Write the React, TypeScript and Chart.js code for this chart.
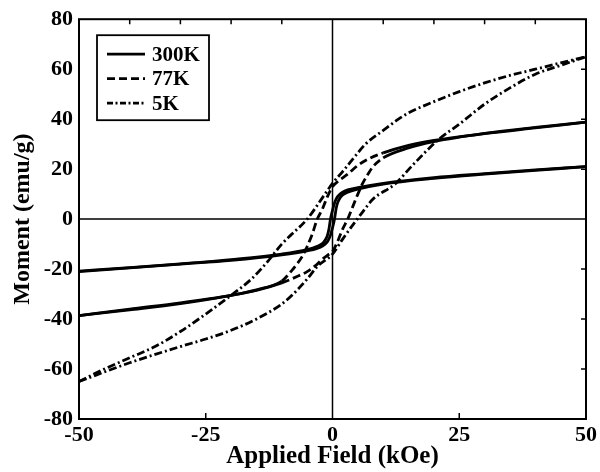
import React, { useEffect, useRef } from "react";
import { Chart, registerables } from "chart.js";

Chart.register(...registerables);

// ---------- data ----------
const xTickLabels = [-50, -25, 0, 25, 50];
const yTickLabels = [-80, -60, -40, -20, 0, 20, 40, 60, 80];
const seriesNames = ["300K", "77K", "5K"];

// 300K loop
const asc300: [number, number][] = [
  [-50, -21], [-40, -19.5], [-30, -18], [-20, -16.5], [-10, -14.3], [-5, -12.7], [-3, -11.7],
  [-2, -10.8], [-1, -9], [-0.5, -7], [0, -3.5], [0.4, 0], [0.7, 4], [1, 6.5], [1.5, 8.5],
  [2, 9.7], [3, 10.8], [5, 12], [10, 14], [20, 16.3], [30, 18], [40, 19.5], [50, 21],
];
const desc300: [number, number][] = [
  [-50, -20.8], [-40, -19.4], [-30, -17.9], [-20, -16.2], [-10, -14], [-5, -12.2], [-3, -10.9],
  [-2, -9.8], [-1.5, -8.6], [-1, -6.5], [-0.7, -4], [-0.4, 0], [0, 3.5], [0.5, 7], [1, 9],
  [2, 10.8], [3, 11.7], [5, 12.6], [10, 14.3], [20, 16.6], [30, 18.2], [40, 19.7], [50, 21],
];

// 77K loop
const asc77: [number, number][] = [
  [-50, -38.6], [-40, -36], [-30, -33.5], [-20, -30.5], [-15, -28.5], [-10, -25.5], [-7, -23],
  [-5, -21], [-3, -18], [-2, -16], [-1, -14.5], [0, -13], [1, -9], [2, -4], [3, 0], [4, 5],
  [5, 10], [6, 14.5], [7, 18], [8, 21], [10, 24.5], [15, 28.5], [20, 31], [30, 34.3],
  [40, 36.7], [50, 38.8],
];
const desc77: [number, number][] = [
  [-50, -38.6], [-40, -36.3], [-30, -33.8], [-20, -30.5], [-15, -28.3], [-10, -24.8], [-8, -20.5],
  [-7, -18], [-6, -15], [-5, -11], [-4, -6], [-3, 0], [-2, 4], [-1.5, 6.5], [-1, 9], [0, 13],
  [1, 15], [2, 16.5], [3, 18], [5, 21.5], [7, 24], [10, 26.5], [15, 29.5], [20, 31.5],
  [30, 34.2], [40, 36.5], [50, 38.8],
];

// 5K loop
const asc5: [number, number][] = [
  [-50, -65], [-40, -57.5], [-30, -51], [-25, -48], [-20, -44.5], [-15, -40], [-10, -34],
  [-8, -30.5], [-5, -24], [-3, -19], [0, -14], [2, -8], [4.5, -1], [6, 3], [8, 8], [12.3, 14],
  [16, 22], [21, 32], [25, 38], [30, 46], [35, 52.5], [40, 58], [45, 61.5], [50, 65],
];
const desc5: [number, number][] = [
  [-50, -65], [-45, -60], [-40, -55.5], [-35, -51], [-30, -45], [-25, -38], [-20, -30.5],
  [-16, -24], [-13, -17.5], [-10, -10], [-8, -6], [-5, 0], [-2, 8.5], [0, 14.3], [2, 19],
  [4, 24], [6.5, 30], [10, 35.5], [13, 40], [15, 42.5], [20, 47], [25, 51], [30, 54.5],
  [35, 57.5], [40, 60], [45, 62.5], [50, 65],
];

const FONT = "'Liberation Serif', 'Times New Roman', serif";
const DASH77 = [8, 4];
const DASH5 = [8, 3, 2, 3];

const toPts = (arr: [number, number][]) => arr.map(([x, y]) => ({ x, y }));

export default function App() {
  const ref = useRef<HTMLCanvasElement | null>(null);

  useEffect(() => {
    if (!ref.current) return;
    const common = {
      showLine: true,
      pointRadius: 0,
      borderColor: "#000",
      borderWidth: 2.8,
      cubicInterpolationMode: "monotone" as const,
      fill: false,
    };
    const dash77Seg = {
      borderDash: (c: any) =>
        Math.abs(c.p0.parsed.x) < 10 || Math.abs(c.p1.parsed.x) < 10 ? DASH77 : [],
    };

    const frame = {
      id: "frame",
      beforeDatasetsDraw(chart: any) {
        const { ctx, chartArea: a, scales } = chart;
        const xs = scales.x, ys = scales.y;
        ctx.save();
        ctx.strokeStyle = "#000";
        ctx.lineWidth = 1.5;
        const x0 = xs.getPixelForValue(0);
        const y0 = ys.getPixelForValue(0);
        ctx.beginPath();
        ctx.moveTo(x0, a.top);
        ctx.lineTo(x0, a.bottom);
        ctx.moveTo(a.left, y0);
        ctx.lineTo(a.right, y0);
        ctx.stroke();
        // inner ticks
        ctx.lineWidth = 1.5;
        ctx.beginPath();
        for (const v of [-40, -30, -20, -10, 10, 20, 30, 40]) {
          const px = xs.getPixelForValue(v);
          ctx.moveTo(px, a.top);
          ctx.lineTo(px, a.top + 5);
        }
        for (const v of [-25, 25]) {
          const px = xs.getPixelForValue(v);
          ctx.moveTo(px, a.bottom);
          ctx.lineTo(px, a.bottom - 6);
        }
        for (const v of [-60, -40, -20, 20, 40, 60]) {
          const py = ys.getPixelForValue(v);
          ctx.moveTo(a.right, py);
          ctx.lineTo(a.right - 5, py);
        }
        ctx.stroke();
        ctx.lineWidth = 2;
        ctx.strokeRect(a.left, a.top, a.right - a.left, a.bottom - a.top);
        ctx.restore();
      },
      afterDatasetsDraw(chart: any) {
        const { ctx, chartArea: a } = chart;
        const bx = a.left + 18, by = a.top + 16, bw = 112, bh = 85;
        ctx.save();
        ctx.fillStyle = "#fff";
        ctx.fillRect(bx, by, bw, bh);
        ctx.strokeStyle = "#000";
        ctx.lineWidth = 1.8;
        ctx.strokeRect(bx, by, bw, bh);
        const dashes = [[], DASH77, [6, 2.5, 2, 2.5]];
        seriesNames.forEach((name, i) => {
          const cy = by + 19 + i * 24.5;
          ctx.setLineDash(dashes[i]);
          ctx.lineWidth = 2.8;
          ctx.beginPath();
          ctx.moveTo(bx + 10, cy);
          ctx.lineTo(bx + 48, cy);
          ctx.stroke();
          ctx.setLineDash([]);
          ctx.fillStyle = "#000";
          ctx.font = `bold 21px ${FONT}`;
          ctx.textBaseline = "middle";
          ctx.textAlign = "left";
          ctx.fillText(name, bx + 55, cy + 1);
        });
        ctx.restore();
      },
    };

    const chart = new Chart(ref.current, {
      type: "scatter",
      data: {
        datasets: [
          { label: seriesNames[0], data: toPts(desc300), ...common },
          { label: seriesNames[0], data: toPts(asc300), ...common },
          { label: seriesNames[1], data: toPts(desc77), ...common, segment: dash77Seg },
          { label: seriesNames[1], data: toPts(asc77), ...common, segment: dash77Seg },
          { label: seriesNames[2], data: toPts(desc5), ...common, borderDash: DASH5 },
          { label: seriesNames[2], data: toPts(asc5), ...common, borderDash: DASH5 },
        ],
      },
      options: {
        animation: false,
        responsive: true,
        maintainAspectRatio: false,
        layout: { padding: { top: 17, right: 12, left: 0, bottom: 0 } },
        plugins: { legend: { display: false }, tooltip: { enabled: false } },
        scales: {
          x: {
            type: "linear",
            min: -50,
            max: 50,
            afterFit: (s: any) => { s.height = 53; },
            afterBuildTicks: (s: any) => { s.ticks = xTickLabels.map((v) => ({ value: v })); },
            grid: { display: false, drawTicks: false },
            border: { display: false },
            ticks: {
              autoSkip: false,
              color: "#000",
              padding: 3,
              font: { family: FONT, size: 22, weight: "bold" },
            },
            title: {
              display: true,
              text: "Applied Field (kOe)",
              color: "#000",
              padding: { top: 0, bottom: 0 },
              font: { family: FONT, size: 25, weight: "bold" },
            },
          },
          y: {
            type: "linear",
            min: -80,
            max: 80,
            afterFit: (s: any) => { s.width = 79; },
            afterBuildTicks: (s: any) => { s.ticks = yTickLabels.map((v) => ({ value: v })); },
            grid: { display: false, drawTicks: false },
            border: { display: false },
            ticks: {
              autoSkip: false,
              color: "#000",
              padding: 6,
              font: { family: FONT, size: 22, weight: "bold" },
            },
            title: {
              display: true,
              text: "Moment (emu/g)",
              color: "#000",
              padding: { top: 8, bottom: 0 },
              font: { family: FONT, size: 24, weight: "bold" },
            },
          },
        },
      },
      plugins: [frame],
    } as any);
    return () => chart.destroy();
  }, []);

  return (
    <div style={{ position: "absolute", left: 0, top: 0, width: 600, height: 472, background: "#fff" }}>
      <canvas ref={ref} />
    </div>
  );
}
